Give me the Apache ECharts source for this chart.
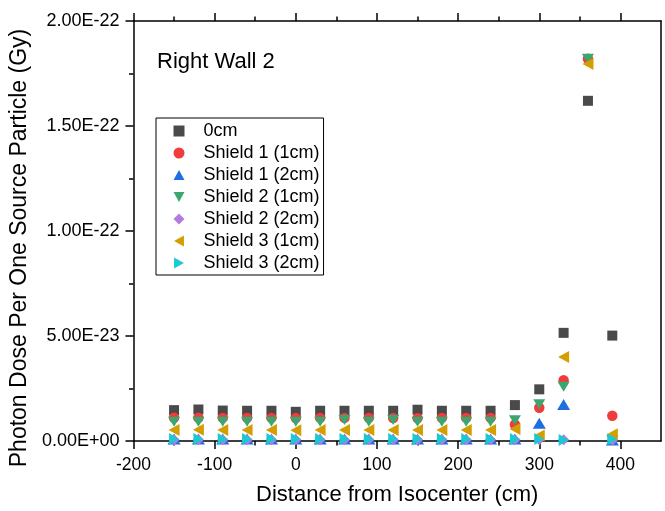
<!DOCTYPE html>
<html>
<head>
<meta charset="utf-8">
<script src="https://cdn.jsdelivr.net/npm/echarts@6/dist/echarts.min.js"></script>
<style>html,body{margin:0;padding:0;background:#fff}#c{width:665px;height:511px}</style>
</head>
<body>
<div id="c"></div>
<script>
// Distance from isocenter (cm)
var distances = [-150,-120,-90,-60,-30,0,30,60,90,120,150,180,210,240,270,300,330,360,390];
// Dose values in units of 1E-23 Gy
var dose0cm      = [1.47,1.50,1.45,1.44,1.44,1.39,1.44,1.44,1.44,1.44,1.49,1.44,1.44,1.44,1.71,2.46,5.15,16.2,5.02];
var doseShield1a = [1.11,1.11,1.10,1.10,1.10,1.09,1.10,1.10,1.10,1.09,1.08,1.10,1.10,1.10,0.79,1.58,2.89,18.2,1.20];
var doseShield1b = [0.10,0.10,0.10,0.10,0.10,0.10,0.10,0.10,0.10,0.10,0.10,0.10,0.10,0.10,0.10,0.84,1.74,null,0.05];
var doseShield2a = [0.92,0.92,0.92,0.92,0.92,0.92,0.92,1.00,0.92,1.00,0.92,0.92,0.92,0.92,0.99,1.75,2.58,18.2,0.05];
var doseShield2b = [0.06,0.06,0.06,0.06,0.06,0.06,0.06,0.06,0.06,0.06,0.06,0.06,0.06,0.06,0.06,0.06,0.06,null,0.04];
var doseShield3a = [0.52,0.53,0.52,0.52,0.52,0.51,0.52,0.52,0.52,0.52,0.52,0.52,0.52,0.52,0.57,0.26,4.00,17.95,0.32];
var doseShield3b = [0.09,0.09,0.09,0.09,0.09,0.09,0.09,0.09,0.09,0.09,0.09,0.09,0.09,0.09,0.10,0.10,0.05,null,0.08];
var seriesNames = ['0cm','Shield 1 (1cm)','Shield 1 (2cm)','Shield 2 (1cm)','Shield 2 (2cm)','Shield 3 (1cm)','Shield 3 (2cm)'];
var xMajorTicks = [-200,-100,0,100,200,300,400];
var xMinorTicks = [-150,-50,50,150,250,350];
var yTickValues = [0,5,10,15,20];

var FONT = 'Liberation Sans, Arial, sans-serif';
function pairs(ys){ return distances.map(function(x,i){ return ys[i]==null ? null : [x, ys[i]]; }).filter(function(p){return p;}); }
function fmtY(v){
  if (v === 0) return '0.00E+00';
  var s = (v*1e-23).toExponential(2).toUpperCase();
  var m = s.split('E'); var e = parseInt(m[1],10);
  var sign = e < 0 ? '-' : '+'; var a = Math.abs(e);
  return m[0] + 'E' + sign + (a < 10 ? '0' + a : a);
}
var axisLineStyle = {color:'#000', width:1.5};
var specs = [
  {data: dose0cm, symbol:'rect', size:10, rot:0, color:'#4a4a4a', icon:'rect'},
  {data: doseShield1a, symbol:'circle', size:10.5, rot:0, color:'#f03c3c', icon:'circle'},
  {data: doseShield1b, symbol:'triangle', size:[13,11], rot:0, color:'#1f6fe0', icon:'path://M5,0L10,9L0,9Z'},
  {data: doseShield2a, symbol:'triangle', size:[12,10], rot:180, color:'#3aa86e', icon:'path://M0,0L10,0L5,9Z'},
  {data: doseShield2b, symbol:'diamond', size:[11,11], rot:0, color:'#b37be0', icon:'diamond'},
  {data: doseShield3a, symbol:'triangle', size:[12,11], rot:90, color:'#d49e00', icon:'path://M9,0L9,10L0,5Z'},
  {data: doseShield3b, symbol:'triangle', size:[12,10], rot:-90, color:'#1cc8d2', icon:'path://M0,0L0,10L9,5Z'}
];
var series = specs.map(function(s,i){
  return {
    name: seriesNames[i], type:'scatter', xAxisIndex:0, yAxisIndex:0,
    symbol: s.symbol, symbolSize: s.size, symbolRotate: s.rot,
    itemStyle:{color:s.color, opacity:1}, data: pairs(s.data)
  };
});
var legendData = specs.map(function(s,i){ return {name: seriesNames[i], icon: s.icon}; });
function xAx(pos, ticks, len, labels, line){
  return {
    type:'value', position:pos, min:-200, max:450, interval:50,
    axisLine:{show:line, onZero:false, lineStyle:axisLineStyle},
    axisTick:{show:true, inside:false, length:len, customValues:ticks, lineStyle:{color:'#000', width:1.5}},
    axisLabel:{show:labels, customValues:xMajorTicks, fontSize:17.5, color:'#000', fontFamily:FONT, margin:15},
    splitLine:{show:false},
    name: (labels ? 'Distance from Isocenter (cm)' : ''),
    nameLocation:'middle', nameGap:43,
    nameTextStyle:{fontSize:22, color:'#000', fontFamily:FONT}
  };
}
var chart = echarts.init(document.getElementById('c'), null, {renderer:'canvas'});
chart.setOption({
  animation:false,
  backgroundColor:'#fff',
  title:{text:'Right Wall 2', left:157, top:51, padding:0,
    textStyle:{fontSize:22, fontWeight:'normal', color:'#000', fontFamily:FONT}},
  legend:{
    orient:'vertical', left:156, top:118, padding:[2,4,1,17.5],
    borderColor:'#000', borderWidth:1, backgroundColor:'#fff',
    itemWidth:11, itemHeight:11, itemGap:0,
    textStyle:{fontSize:18, color:'#000', fontFamily:FONT, lineHeight:22, padding:[0,0,0,14]},
    data: legendData
  },
  grid:{left:132, right:4, top:21, bottom:68, containLabel:false},
  xAxis:[
    xAx('bottom', xMajorTicks, 8, true, true),
    xAx('bottom', xMinorTicks, 4.5, false, false),
    xAx('top', xMajorTicks, 8, false, true),
    xAx('top', xMinorTicks, 4.5, false, false)
  ],
  yAxis:[
    {type:'value', position:'left', min:0, max:20, interval:5,
     axisLine:{show:true, onZero:false, lineStyle:axisLineStyle},
     axisTick:{show:true, inside:false, length:8, lineStyle:{color:'#000', width:1.5}},
     minorTick:{show:true, splitNumber:2, length:4.5, lineStyle:{color:'#000', width:1.5}},
     axisLabel:{fontSize:18, color:'#000', fontFamily:FONT, margin:14, formatter:fmtY, customValues:yTickValues},
     splitLine:{show:false}, minorSplitLine:{show:false},
     name:'Photon Dose Per One Source Particle (Gy)', nameLocation:'middle', nameGap:96,
     nameTextStyle:{fontSize:23, color:'#000', fontFamily:FONT, padding:[0,34,0,0]}},
    {type:'value', position:'right', min:0, max:20, interval:5,
     axisLine:{show:true, onZero:false, lineStyle:axisLineStyle},
     axisTick:{show:false}, axisLabel:{show:false}, splitLine:{show:false}}
  ],
  series: series
});
</script>
</body>
</html>
